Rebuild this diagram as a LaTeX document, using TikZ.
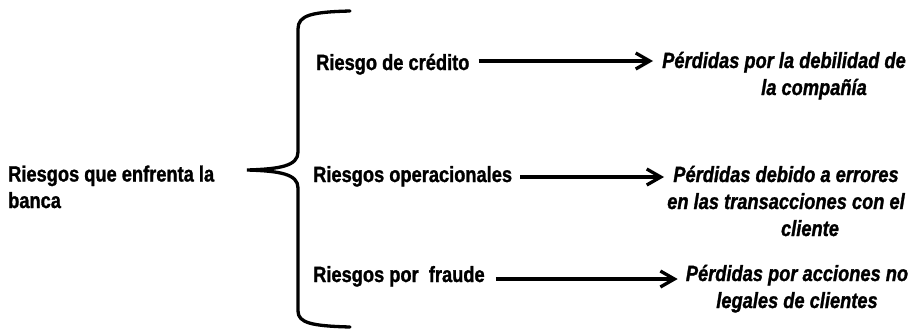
\documentclass[tikz,border=0pt]{standalone}
\usepackage{fontspec}
\setmainfont{Liberation Sans}[FakeStretch=0.83,
  BoldFeatures={FakeBold=1.2}, BoldItalicFeatures={FakeBold=1.2}]
\usetikzlibrary{arrows.meta,calc}
\begin{document}
\begin{tikzpicture}[x=1pt,y=-1pt,
  txt/.style={inner sep=0pt, font=\fontsize{22}{26.5}\selectfont\bfseries},
  loss/.style={inner sep=0pt, font=\fontsize{22}{27}\selectfont\bfseries\itshape, align=center},
  arr/.style={line width=3.3pt, -{Straight Barb[length=14pt,width=16pt]}},
  brace/.style={line width=3.3pt, line cap=round}]
\useasboundingbox (0,0) rectangle (915,332);

\node[txt, align=left, anchor=base west] (main) at (8,208) {Riesgos que enfrenta la\\banca};

\node[txt, anchor=base west] (r1) at (316,70) {Riesgo de crédito};
\node[txt, anchor=base west] (r2) at (313,182) {Riesgos operacionales};
\node[txt, anchor=base west] (r3) at (313,282) {Riesgos por\ \ fraude};

\node[loss, anchor=base] (p1) at (784,95) {Pérdidas por la debilidad de\\\hspace*{60pt}la compañía};
\node[loss, anchor=base] (p2) at (786,236) {Pérdidas debido a errores\\en las transacciones con el\\\hspace*{48pt}cliente};
\node[loss, anchor=base] (p3) at (797,308) {Pérdidas por acciones no\\legales de clientes};

\draw[arr] ($(r1.base east)+(9,-9)$) -- ($(r1.base east -| p1.west)+(-9,-9)$);
\draw[arr] ($(r2.base east)+(8,-5)$) -- ($(r2.base east -| p2.west)+(-3,-5)$);
\draw[arr] ($(r3.base east)+(11,-3)$) -- ($(r3.base east -| p3.west)+(-8,-3)$);

\draw[brace] (350,11) .. controls (312,12) and (298,15) .. (298,29)
  -- (298,152) .. controls (298,166) and (280,169) .. (247,170)
  .. controls (280,171) and (298,174) .. (298,188)
  -- (298,311) .. controls (298,323) and (312,326) .. (350,327);
\end{tikzpicture}
\end{document}
